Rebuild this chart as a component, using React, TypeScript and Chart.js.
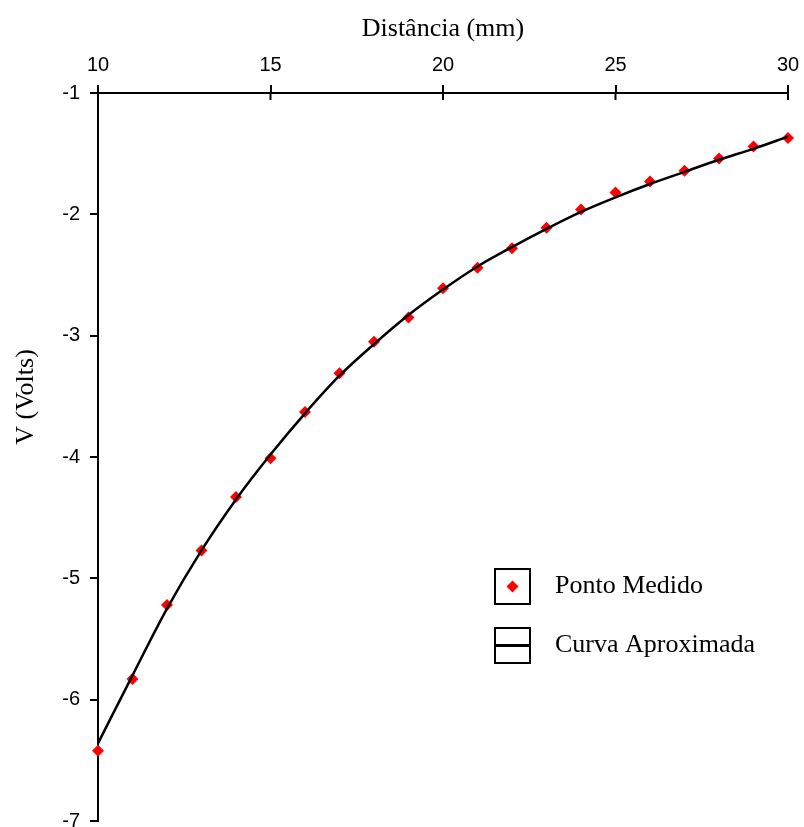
import React, { useEffect, useRef } from "react";
import { Chart, registerables } from "chart.js";

Chart.register(...registerables);

// Measured points
const distances = [10, 11, 12, 13, 14, 15, 16, 17, 18, 19, 20, 21, 22, 23, 24, 25, 26, 27, 28, 29, 30];
const measured = [-6.42, -5.83, -5.22, -4.77, -4.33, -4.01, -3.63, -3.31, -3.05, -2.85, -2.61, -2.44, -2.28, -2.11, -1.96, -1.82, -1.73, -1.64, -1.54, -1.44, -1.37];
// Approximated curve
const curveX = [10, 11, 12, 13, 14, 15, 16, 17, 18, 19, 20, 21, 22, 23, 24, 25, 26, 27, 28, 29, 30];
const curveY = [-6.36, -5.8, -5.25, -4.77, -4.35, -3.98, -3.64, -3.33, -3.07, -2.83, -2.62, -2.43, -2.27, -2.12, -1.98, -1.86, -1.75, -1.65, -1.55, -1.46, -1.36];

const xTitle = "Distância (mm)";
const yTitle = "V (Volts)";
const seriesPoints = "Ponto Medido";
const seriesCurve = "Curva Aproximada";

const SERIF = "'Liberation Serif', 'Times New Roman', serif";
const SANS = "'Liberation Sans', Arial, sans-serif";

const overlayPlugin = {
  id: "overlay",
  afterDraw(chart: any) {
    const ctx = chart.ctx;
    const ca = chart.chartArea;
    const xs = chart.scales.x;
    ctx.save();
    // x tick marks crossing below the top axis
    ctx.strokeStyle = "#000";
    ctx.lineWidth = 2;
    xs.ticks.forEach((t: any) => {
      const px = xs.getPixelForValue(t.value);
      ctx.beginPath();
      ctx.moveTo(px, ca.top);
      ctx.lineTo(px, ca.top + 7);
      ctx.stroke();
    });
    // y title
    ctx.save();
    ctx.translate(26, ca.top + 304);
    ctx.rotate(-Math.PI / 2);
    ctx.fillStyle = "#000";
    ctx.font = `26px ${SERIF}`;
    ctx.textAlign = "center";
    ctx.textBaseline = "middle";
    ctx.fillText(yTitle, 0, 0);
    ctx.restore();
    // legend
    const bx = ca.left + 397;
    const by = ca.top + 476;
    const bs = 35;
    const gap = 59;
    ctx.lineWidth = 2;
    ctx.strokeStyle = "#000";
    ctx.strokeRect(bx, by, bs, bs);
    ctx.strokeRect(bx, by + gap, bs, bs);
    // diamond
    const cx = bx + bs / 2;
    const cy = by + bs / 2;
    ctx.fillStyle = "#ff0000";
    ctx.beginPath();
    ctx.moveTo(cx, cy - 6);
    ctx.lineTo(cx + 6, cy);
    ctx.lineTo(cx, cy + 6);
    ctx.lineTo(cx - 6, cy);
    ctx.closePath();
    ctx.fill();
    // line
    ctx.lineWidth = 3;
    ctx.beginPath();
    ctx.moveTo(bx, by + gap + bs / 2);
    ctx.lineTo(bx + bs, by + gap + bs / 2);
    ctx.stroke();
    ctx.fillStyle = "#000";
    ctx.font = `26px ${SERIF}`;
    ctx.textAlign = "left";
    ctx.textBaseline = "middle";
    ctx.fillText(seriesPoints, bx + 60, cy);
    ctx.fillText(seriesCurve, bx + 60, by + gap + bs / 2);
    ctx.restore();
  },
};

export default function App() {
  const ref = useRef<HTMLCanvasElement | null>(null);
  useEffect(() => {
    if (!ref.current) return;
    const chart = new Chart(ref.current, {
      type: "scatter",
      data: {
        datasets: [
          {
            label: seriesCurve,
            data: curveX.map((x, i) => ({ x, y: curveY[i] })),
            showLine: true,
            borderColor: "#000",
            borderWidth: 2.5,
            pointRadius: 0,
            cubicInterpolationMode: "monotone",
            order: 0,
            clip: false,
          } as any,
          {
            label: seriesPoints,
            data: distances.map((x, i) => ({ x, y: measured[i] })),
            showLine: false,
            pointStyle: "rectRot",
            pointRadius: 6,
            backgroundColor: "#ff0000",
            borderColor: "#ff0000",
            borderWidth: 0,
            order: 1,
            clip: false,
          } as any,
        ],
      },
      options: {
        animation: false,
        responsive: true,
        maintainAspectRatio: false,
        layout: { padding: { top: 0, left: 0, right: 16, bottom: 4 } },
        plugins: { legend: { display: false }, tooltip: { enabled: false }, title: { display: false } },
        scales: {
          x: {
            type: "linear",
            position: "top",
            min: 10,
            max: 30,
            afterFit: (s: any) => {
              s.height = 93;
              s.paddingLeft = 0;
              s.paddingRight = 0;
            },
            ticks: { stepSize: 5, color: "#000", font: { family: SANS, size: 20 }, padding: 8 },
            grid: { display: true, drawOnChartArea: false, drawTicks: true, tickLength: 8, color: "#000", lineWidth: 2 },
            border: { display: true, color: "#000", width: 2 },
            title: { display: true, text: xTitle, color: "#000", font: { family: SERIF, size: 26 }, padding: { top: 14, bottom: 0 } },
          },
          y: {
            type: "linear",
            position: "left",
            min: -7,
            max: -1,
            afterFit: (s: any) => {
              s.width = 98;
              s.paddingTop = 0;
              s.paddingBottom = 0;
            },
            ticks: { stepSize: 1, color: "#000", font: { family: SANS, size: 20 }, padding: 10 },
            grid: { display: true, drawOnChartArea: false, drawTicks: true, tickLength: 8, color: "#000", lineWidth: 2 },
            border: { display: true, color: "#000", width: 2 },
            title: { display: false },
          },
        },
      },
      plugins: [overlayPlugin],
    });
    return () => chart.destroy();
  }, []);
  return (
    <div style={{ position: "fixed", left: 0, top: 0, width: 804, height: 827, background: "#fff" }}>
      <canvas ref={ref} />
    </div>
  );
}
